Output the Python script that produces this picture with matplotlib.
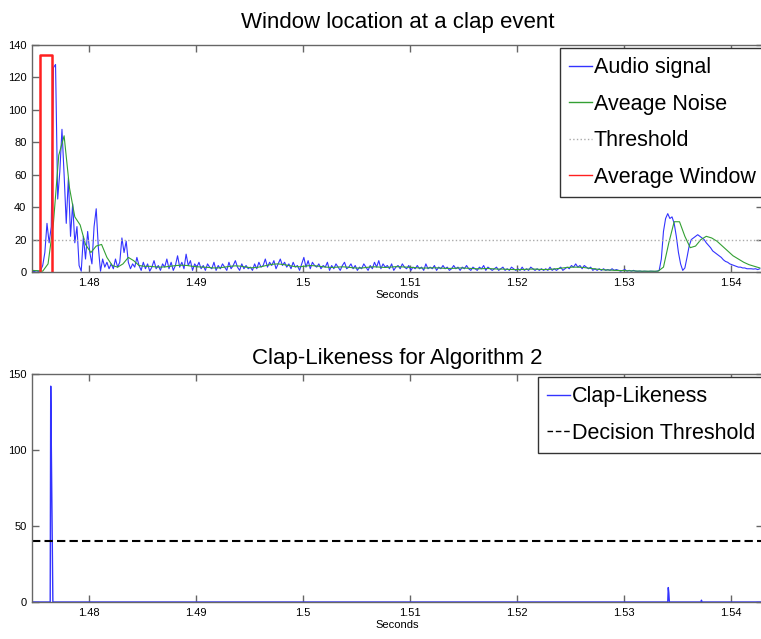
import numpy as np
import matplotlib
matplotlib.use('Agg')
import matplotlib.pyplot as plt

plt.rcParams['font.family'] = ['Liberation Sans', 'DejaVu Sans']

# audio envelope, sampled every 0.2 ms starting at 1.4747 s
audio_t0 = 1.4747
audio_dt = 0.0002
audio = [0.5, 0.3, 0.8, 0.4, 1.0, 4, 12, 30, 18, 28,
         126, 128, 45, 62, 88, 60, 30, 58, 22, 42,
         18, 28, 4, 0.5, 22, 8, 25, 12, 5, 28,
         39, 15, 0.5, 8, 3, 6, 2, 5, 2, 8,
         3, 6, 21, 12, 19, 6, 2, 5, 3, 9,
         4, 1, 6, 2, 5, 0.5, 3, 7, 2, 4,
         1, 5, 3, 8, 2, 6, 1, 4, 10, 3,
         6, 2, 11, 4, 7, 1, 5, 3, 6, 2,
         4, 1, 5, 3, 2, 6, 1, 4, 2, 5,
         3, 1, 6, 2, 4, 7, 3, 1, 5, 2,
         4, 2, 3, 1, 5, 2, 6, 3, 4, 8,
         3, 6, 4, 7, 2, 5, 8, 4, 6, 3,
         5, 2, 6, 3, 4, 1, 5, 9, 3, 7,
         2, 6, 4, 3, 5, 2, 4, 3, 6, 1,
         4, 2, 5, 3, 1, 4, 6, 2, 3, 5,
         2, 4, 1, 3, 2, 5, 3, 1, 4, 2,
         6, 3, 7, 2, 5, 3, 4, 2, 5, 1,
         3, 4, 2, 5, 3, 2, 4, 1, 3, 2,
         4, 2, 3, 1, 5, 2, 3, 2, 4, 1,
         3, 2, 4, 2, 3, 1, 2, 4, 2, 3,
         1, 3, 2, 4, 2, 1, 3, 2, 1, 3,
         2, 4, 1, 3, 2, 1, 2, 3, 1, 2,
         3, 1, 2, 1, 3, 2, 1, 2, 1, 3,
         1, 2, 1, 3, 2, 1, 2, 1, 2, 1,
         2, 1, 3, 1, 2, 1, 2, 3, 1, 2,
         3, 2, 4, 3, 5, 3, 4, 2, 4, 3,
         2, 3, 1, 2, 1, 2, 1, 2, 1, 1.5,
         1, 2, 1, 1.5, 1, 0.5, 1, 1.5, 0.5, 1,
         0.5, 1, 0.5, 0.4, 0.6, 0.3, 0.5, 0.4, 0.3, 0.5,
         0.4, 0.3, 0.5, 1, 8, 25, 33, 36, 33, 34,
         30, 22, 12, 5, 1, 2.5, 9, 16, 20, 21,
         22, 23, 22, 21, 20, 18, 16.5, 15, 13, 12,
         11, 10, 9, 7.5, 6.5, 6, 5, 4.5, 4, 3.5,
         3, 3, 2.5, 2.5, 2, 2, 2, 1.8, 2, 1.5,
         2]

# running noise average, sampled every 0.5 ms
noise_t0 = 1.4747
noise_dt = 0.0005
noise = [1.0, 0.8, 0.5, 5, 30, 72, 84, 52, 34, 29,
         17, 12, 16, 17, 9, 4, 3, 5, 9, 7,
         4, 3.5, 3.5, 3.2, 3.0, 3.2, 3.6, 4.0, 4.2, 4.0,
         3.5, 3.2, 3.0, 2.8, 2.5, 2.6, 3.0, 3.5, 3.8, 3.6,
         3.0, 2.6, 2.8, 3.4, 4.2, 4.8, 5.0, 4.6, 4.0, 3.4,
         3.2, 3.6, 4.0, 3.8, 3.4, 3.0, 2.8, 3.0, 3.2, 3.0,
         2.6, 2.4, 2.6, 3.0, 3.2, 3.0, 2.8, 3.0, 3.3, 3.2,
         3.0, 2.8, 2.6, 2.4, 2.5, 2.6, 2.5, 2.3, 2.2, 2.3,
         2.5, 2.4, 2.2, 2.0, 2.0, 2.2, 2.0, 1.8, 1.8, 1.6,
         1.5, 1.5, 1.6, 1.8, 1.8, 1.6, 1.5, 1.7, 2.0, 2.4,
         2.8, 3.0, 3.0, 2.8, 2.4, 2.0, 1.6, 1.3, 1.2, 1.0,
         0.9, 0.8, 0.7, 0.6, 0.5, 0.5, 0.5, 0.5, 3, 18,
         31, 31, 22, 15, 16, 20, 22, 21, 19, 16,
         13, 10, 8, 6, 4.5, 3.5, 2.5]

threshold = 20
window_t = [1.47549, 1.47661]
window_height = 134

# clap-likeness output of algorithm 2
clap_t = [1.4747, 1.47640, 1.47645, 1.47650, 1.47655, 1.47660, 1.47665,
          1.53410, 1.53415, 1.53420, 1.53425,
          1.53720, 1.53725, 1.53730, 1.5430]
clap_val = [0, 0, 142, 106, 70, 35, 0,
            0, 9.5, 6, 0,
            0, 1.2, 0, 0]
decision_threshold = 40

xlim = (1.4747, 1.5430)
xticks = [1.48, 1.49, 1.50, 1.51, 1.52, 1.53, 1.54]


def style_axes(ax):
    for s in ax.spines.values():
        s.set_color('#666666')
        s.set_linewidth(1)
    ax.tick_params(direction='in', length=5, width=1, color='#666666',
                   top=True, right=True, labelsize=8, pad=4)
    ax.set_xlim(xlim)
    ax.set_xticks(xticks)
    ax.set_xticklabels(['%g' % v for v in xticks])
    ax.set_xlabel('Seconds', fontsize=8, labelpad=2)


def add_legend(ax, x, y):
    leg = ax.legend(loc='upper left', bbox_to_anchor=(x/761, 1-y/639),
                    bbox_transform=fig.transFigure, borderaxespad=0,
                    fontsize=15.5, handlelength=1.05, handletextpad=0.1,
                    labelspacing=0.72, borderpad=0.42, fancybox=False,
                    framealpha=1, edgecolor='#333333')
    leg.get_frame().set_linewidth(1)
    # thin handles, like the plotted lines
    for h in leg.get_lines():
        h.set_linewidth(1)
    return leg


fig = plt.figure(figsize=(7.61, 6.39), dpi=100)
ax1 = fig.add_axes([32/761, 1-272/639, 731/761, 227/639])
ax2 = fig.add_axes([32/761, 1-602/639, 731/761, 228/639])

t_audio = audio_t0 + audio_dt*np.arange(len(audio))
t_noise = noise_t0 + noise_dt*np.arange(len(noise))

ax1.plot(t_audio, audio, color='#3333ff', lw=0.8, label='Audio signal')
ax1.plot(t_noise, noise, color='#33a033', lw=0.8, label='Aveage Noise')
ax1.axhline(threshold, color='#aaaaaa', lw=1, ls=':', label='Threshold')
ax1.plot([window_t[0], window_t[0], window_t[1], window_t[1]],
         [0, window_height, window_height, 0],
         color='#ff2020', lw=1.8, label='Average Window')
ax1.set_ylim(0, 140)
ax1.set_yticks(range(0, 141, 20))
style_axes(ax1)
ax1.set_title('Window location at a clap event', fontsize=16, pad=12)
add_legend(ax1, 560, 48)

ax2.plot(clap_t, clap_val, color='#3333ff', lw=1, label='Clap-Likeness')
ax2.axhline(decision_threshold, color='black', lw=1.5, ls=(0, (4, 2)),
            label='Decision Threshold')
ax2.set_ylim(0, 150)
ax2.set_yticks([0, 50, 100, 150])
style_axes(ax2)
ax2.set_title('Clap-Likeness for Algorithm 2', fontsize=16, pad=7)
add_legend(ax2, 538, 377)

fig.savefig('out.png', dpi=100)
